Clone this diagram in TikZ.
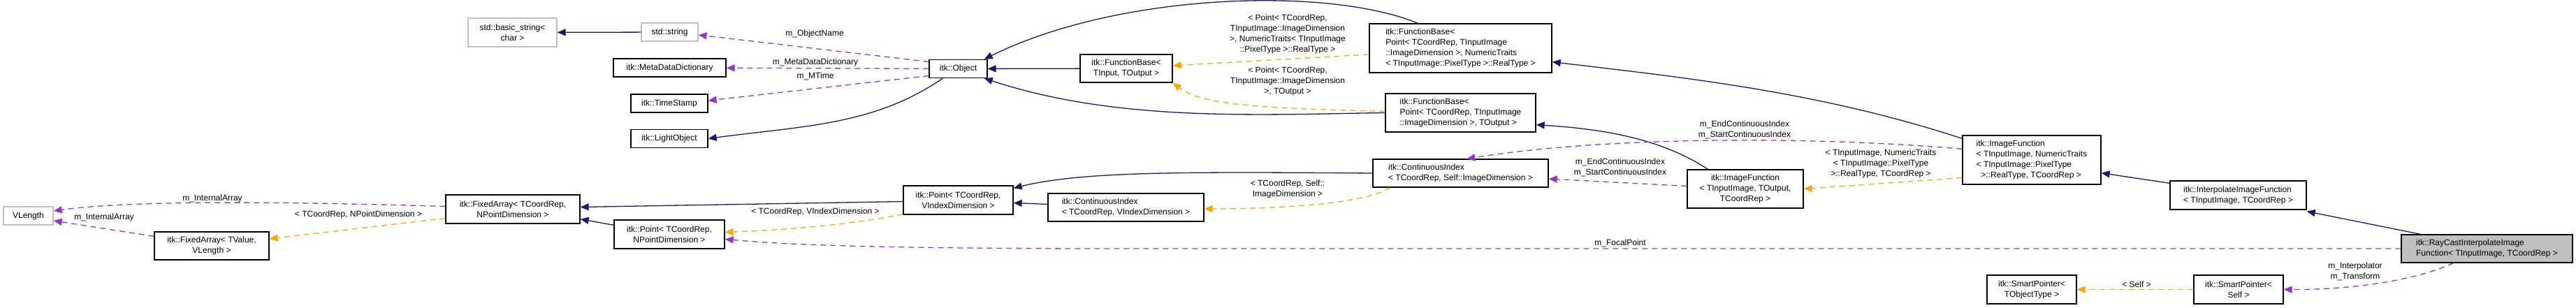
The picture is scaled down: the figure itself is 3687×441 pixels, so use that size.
\documentclass[tikz,border=0pt]{standalone}
\usepackage{fontspec}
\setmainfont{Liberation Sans}
\usetikzlibrary{arrows.meta,calc}

\begin{document}
\begin{tikzpicture}[x=1pt, y=-1pt,
  cls/.style = {draw=black, fill=white, line width=1.3pt, inner sep=2pt,
    font=\fontsize{12}{15}\selectfont, align=center},
  ext/.style = {cls, draw=black!25},
  sel/.style = {cls, fill=black!25},
  lft/.style = {align=left},
  lbl/.style = {font=\fontsize{12}{15}\selectfont, align=center, inner sep=0pt},
  tip/.style = {-{Triangle[length=12pt,width=10pt]}},
  inh/.style = {tip, draw=navy, line width=1.3pt},
  mem/.style = {tip, draw=orchid, dash pattern=on 8pt off 6pt, line width=1.3pt},
  tpl/.style = {tip, draw=amber, dash pattern=on 8pt off 6pt, line width=1.3pt}
  ]
  \definecolor{navy}{HTML}{191970}
  \definecolor{orchid}{HTML}{9A32CD}
  \definecolor{amber}{HTML}{FFA500}
  \useasboundingbox (0,0) rectangle (3687,441);

  % classes
  \node (basic) [ext, minimum width=127, minimum height=41] at (733.5,46.5) {std::basic\_string<\\char >};
  \node (vlen) [ext, minimum width=71, minimum height=26] at (40.5,309) {VLength};
  \node (fatv) [cls, minimum width=164, minimum height=40] at (303,352) {itk::FixedArray< TValue,\\VLength >};
  \node (fanp) [cls, minimum width=192, minimum height=41] at (734,299.5) {itk::FixedArray< TCoordRep,\\NPointDimension >};
  \node (str) [ext, minimum width=81, minimum height=26] at (958.5,46) {std::string};
  \node (mdd) [cls, minimum width=161, minimum height=26] at (958.5,97) {itk::MetaDataDictionary};
  \node (stamp) [cls, minimum width=110, minimum height=26] at (958,148) {itk::TimeStamp};
  \node (light) [cls, minimum width=110, minimum height=26] at (958,198.5) {itk::LightObject};
  \node (obj) [cls, minimum width=83, minimum height=26] at (1371.5,98.5) {itk::Object};
  \node (fbio) [cls, minimum width=132, minimum height=40] at (1612,98) {itk::FunctionBase<\\TInput, TOutput >};
  \node (ptvi) [cls, minimum width=157, minimum height=41] at (1371.5,286.5) {itk::Point< TCoordRep,\\VIndexDimension >};
  \node (civi) [cls, lft, minimum width=223, minimum height=40] at (1611.5,297) {itk::ContinuousIndex\\< TCoordRep, VIndexDimension >};
  \node (ptnp) [cls, minimum width=158, minimum height=41] at (958,335.5) {itk::Point< TCoordRep,\\NPointDimension >};
  \node (fbpn) [cls, lft, minimum width=261, minimum height=70] at (2090.5,69) {itk::FunctionBase<\\ Point< TCoordRep, TInputImage\\::ImageDimension >, NumericTraits\\< TInputImage::PixelType >::RealType >};
  \node (fbpo) [cls, lft, minimum width=215, minimum height=55] at (2090.5,161.5) {itk::FunctionBase<\\ Point< TCoordRep, TInputImage\\ ::ImageDimension >, TOutput >};
  \node (cisd) [cls, lft, minimum width=251, minimum height=40] at (2090.5,248) {itk::ContinuousIndex\\< TCoordRep, Self::ImageDimension >};
  \node (ifto) [cls, minimum width=166, minimum height=55] at (2498,270.5) {itk::ImageFunction\\< TInputImage, TOutput,\\TCoordRep >};
  \node (ifnt) [cls, lft, minimum width=198, minimum height=70] at (2908,229) {itk::ImageFunction\\< TInputImage, NumericTraits\\< TInputImage::PixelType\\ \ \ >::RealType, TCoordRep >};
  \node (iif) [cls, lft, minimum width=195, minimum height=41] at (3203.5,279.5) {itk::InterpolateImageFunction\\< TInputImage, TCoordRep >};
  \node (rc) [sel, lft, minimum width=245, minimum height=40] at (3559.5,356) {itk::RayCastInterpolateImage\\Function< TInputImage, TCoordRep >};
  \node (spto) [cls, minimum width=128, minimum height=41] at (2908,414.5) {itk::SmartPointer<\\TObjectType >};
  \node (sps) [cls, minimum width=128, minimum height=41] at (3204,414.5) {itk::SmartPointer<\\Self >};

  % inheritance
  \draw [inh] (str) -- (basic);
  \draw [inh] ($(obj.south west)+(20,0)$) .. controls (1250,180) and (1150,180) .. (light.east);
  \draw [inh] (fbio) -- (obj);
  \draw [inh] ($(fbpn.north west)+(70,0)$) .. controls (1900,-20) and (1600,-10) .. ($(obj.north east)+(-5,0)$);
  \draw [inh] (fbpo.west) .. controls (1800,164) and (1600,175) .. ($(obj.south east)+(-5,0)$);
  \draw [inh] ($(ifnt.north west)+(0,5)$) .. controls (2600,130) and (2400,110) .. ($(fbpn.south east)+(0,-16)$);
  \draw [inh] ($(ifto.north west)+(30,0)$) .. controls (2380,200) and (2300,185) .. ($(fbpo.south east)+(0,-11)$);
  \draw [inh] ($(iif.north west)+(0,4)$) -- ($(ifnt.south east)+(0,-17)$);
  \draw [inh] ($(rc.north west)+(28,0)$) -- ($(iif.south east)+(0,2)$);
  \draw [inh] (civi) -- ($(ptvi.east)+(0,4)$);
  \draw [inh] (cisd.west) .. controls (1700,246) and (1550,245) .. ($(ptvi.north east)+(0,4)$);
  \draw [inh] ($(ptvi.west)+(0,2)$) -- ($(fanp.east)+(0,-3)$);
  \draw [inh] ($(ptnp.north west)+(0,8)$) -- ($(fanp.south east)+(0,-7)$);

  % template instances
  \draw [tpl] ($(fbpn.west)+(0,9)$) -- ($(fbio.east)+(0,-4)$);
  \draw [tpl] ($(fbpo.west)+(0,-2)$) .. controls (1800,155) and (1720,150) .. ($(fbio.south east)+(0,0)$);
  \draw [tpl] ($(ifnt.south west)+(0,-10)$) -- ($(ifto.east)+(0,0)$);
  \draw [tpl] ($(cisd.south west)+(25,0)$) .. controls (1950,295) and (1800,299) .. ($(civi.east)+(0,2)$);
  \draw [tpl] ($(ptvi.south west)+(0,-1)$) .. controls (1200,325) and (1100,330) .. ($(ptnp.east)+(0,-3)$);
  \draw [tpl] ($(fanp.west)+(0,13)$) -- ($(fatv.east)+(0,-10)$);
  \draw [tpl] (sps) -- (spto);

  % members
  \draw [mem] ($(obj.west)+(0,-10)$) -- ($(str.east)+(0,4)$);
  \draw [mem] (obj) -- (mdd);
  \draw [mem] ($(obj.west)+(0,10)$) -- ($(stamp.east)+(0,-4)$);
  \draw [mem] ($(ifto.west)+(0,-4)$) -- ($(cisd.east)+(0,8)$);
  \draw [mem] ($(ifnt.north west)+(0,20)$) .. controls (2600,195) and (2300,195) .. ($(cisd.north west)+(135,0)$);
  \draw [mem] (rc.west) -- (1600,356) .. controls (1200,356) and (1100,348) .. ($(ptnp.east)+(0,7)$);
  \draw [mem] ($(rc.south west)+(75,0)$) .. controls (3450,405) and (3350,415) .. (sps.east);
  \draw [mem] ($(fanp.west)+(0,-4)$) .. controls (450,290) and (200,285) .. ($(vlen.east)+(0,-7)$);
  \draw [mem] ($(fatv.north west)+(0,7)$) -- ($(vlen.east)+(0,7)$);

  % labels
  \node [lbl] at (1166,48) {m\_ObjectName};
  \node [lbl] at (1167,89) {m\_MetaDataDictionary};
  \node [lbl] at (1167,109) {m\_MTime};
  \node [lbl] at (1843,49) {< Point< TCoordRep,\\TInputImage::ImageDimension\\>, NumericTraits< TInputImage\\::PixelType >::RealType >};
  \node [lbl] at (1843,116) {< Point< TCoordRep,\\TInputImage::ImageDimension\\>, TOutput >};
  \node [lbl] at (1167,303) {< TCoordRep, VIndexDimension >};
  \node [lbl] at (1843,271) {< TCoordRep, Self::\\ImageDimension >};
  \node [lbl] at (2497,186) {m\_EndContinuousIndex\\m\_StartContinuousIndex};
  \node [lbl] at (2319,240) {m\_EndContinuousIndex\\m\_StartContinuousIndex};
  \node [lbl] at (2692,234) {< TInputImage, NumericTraits\\< TInputImage::PixelType\\>::RealType, TCoordRep >};
  \node [lbl] at (2319,348) {m\_FocalPoint};
  \node [lbl] at (3371,389) {m\_Interpolator\\m\_Transform};
  \node [lbl] at (3058,407) {< Self >};
  \node [lbl] at (304,284) {m\_InternalArray};
  \node [lbl] at (149,311) {m\_InternalArray};
  \node [lbl] at (513,307) {< TCoordRep, NPointDimension >};
\end{tikzpicture}
\end{document}
